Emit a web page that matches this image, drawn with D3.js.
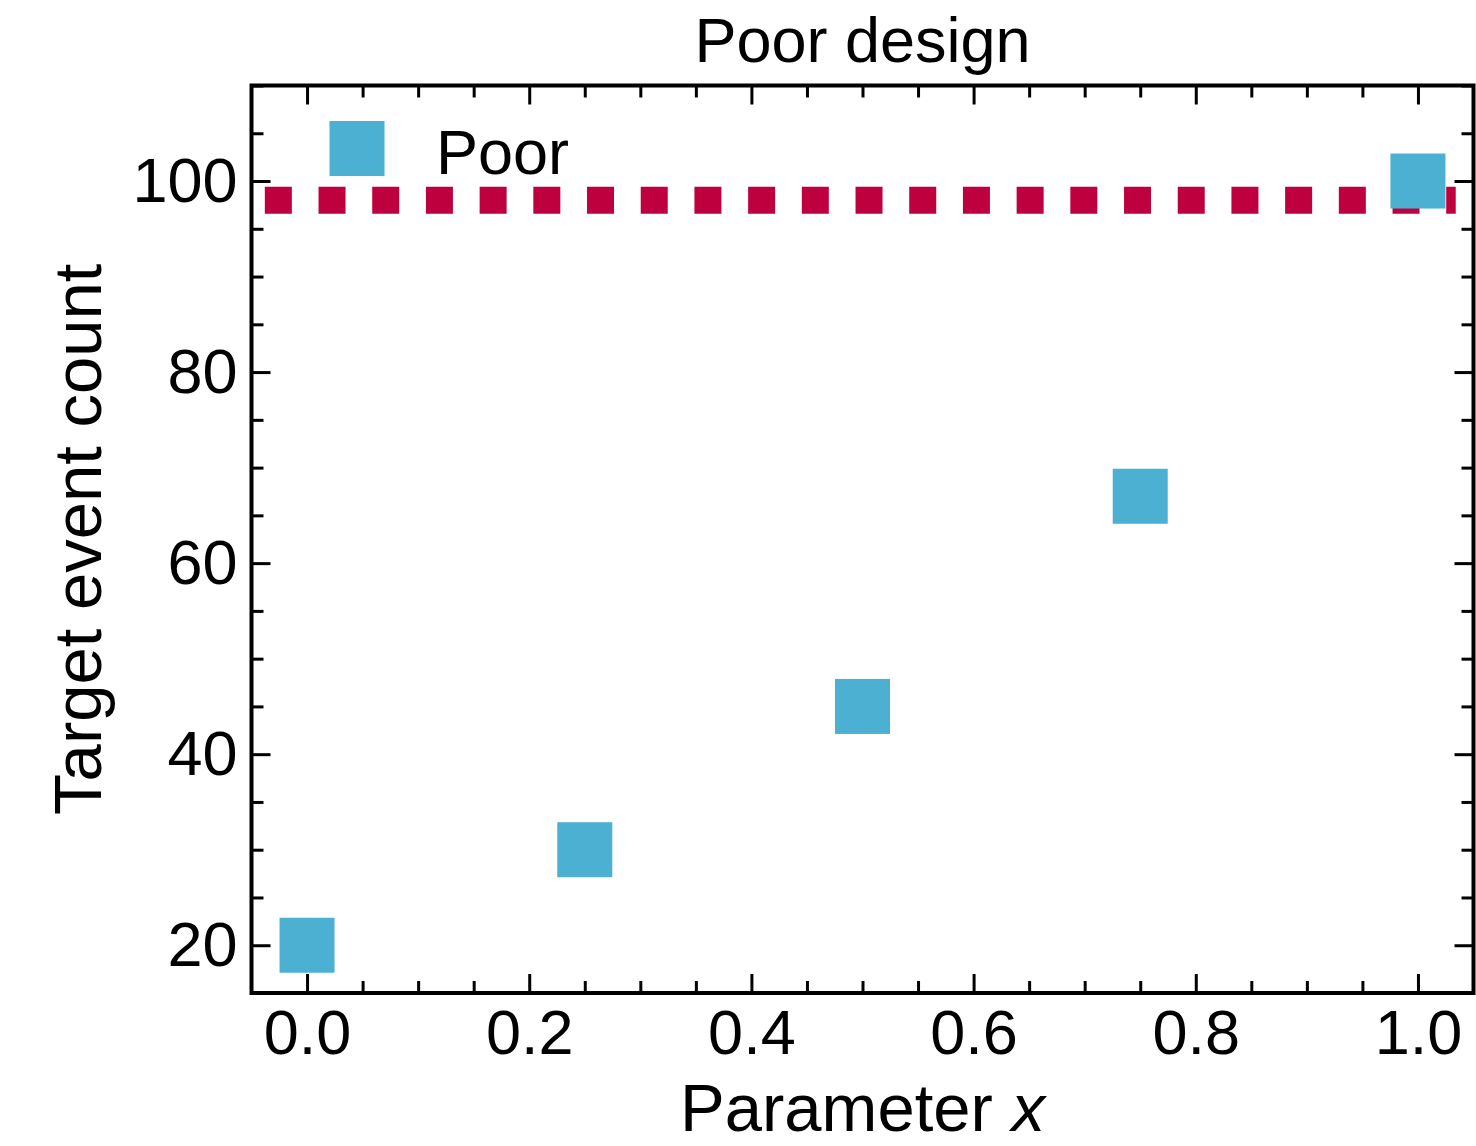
<!DOCTYPE html>
<html>
<head>
<meta charset="utf-8">
<script src="https://cdn.jsdelivr.net/npm/d3@7"></script>
<style>
  body { margin: 0; background: #fff; }
  svg text { font-family: "Liberation Sans", Arial, sans-serif; fill: #000; }
</style>
</head>
<body>
<svg id="chart" width="1476" height="1146"></svg>
<script>
// data
var xValues = [0.0, 0.25, 0.5, 0.75, 1.0];
var yValues = [20, 30, 45, 67, 100];
var targetLevel = 98;
var targetSpan = [-0.038, 1.034];
var xTicks = [0.0, 0.2, 0.4, 0.6, 0.8, 1.0];
var yTicks = [20, 40, 60, 80, 100];
var xDomain = [-0.05, 1.05];
var yDomain = [15, 110];

var width = 1476, height = 1146;
var margin = {left: 251.5, right: 2.5, top: 85.5, bottom: 153};
var fontSize = 63;     // ticks, title, legend
var labelSize = 67;    // axis labels

var svg = d3.select('#chart');

var xScale = d3.scaleLinear().domain(xDomain).range([margin.left, width - margin.right]);
var yScale = d3.scaleLinear().domain(yDomain).range([height - margin.bottom, margin.top]);

// minor ticks every 0.05 and every 5
var xMinor = d3.range(0, 1.0001, 0.05).filter(function(v) { return Math.abs(v * 5 - Math.round(v * 5)) > 1e-6; });
var yMinor = d3.range(15, 110.001, 5).filter(function(v) { return v % 20 !== 0; });

function styleAxis(g) {
  g.select('.domain').remove();
  g.selectAll('.tick line').attr('stroke', '#000').attr('stroke-width', 3);
  g.selectAll('.tick text').style('font-size', fontSize + 'px');
}

// major ticks on all four sides, pointing inward
var axBottom = svg.append('g')
  .attr('transform', 'translate(0,' + (height - margin.bottom) + ')')
  .call(d3.axisBottom(xScale).tickValues(xTicks).tickSize(-19).tickPadding(16).tickFormat(d3.format('.1f')));
styleAxis(axBottom);

var axLeft = svg.append('g')
  .attr('transform', 'translate(' + margin.left + ',0)')
  .call(d3.axisLeft(yScale).tickValues(yTicks).tickSize(-19).tickPadding(14));
styleAxis(axLeft);

var axTop = svg.append('g')
  .attr('transform', 'translate(0,' + margin.top + ')')
  .call(d3.axisTop(xScale).tickValues(xTicks).tickSize(-19).tickFormat(''));
styleAxis(axTop);

var axRight = svg.append('g')
  .attr('transform', 'translate(' + (width - margin.right) + ',0)')
  .call(d3.axisRight(yScale).tickValues(yTicks).tickSize(-19).tickFormat(''));
styleAxis(axRight);

// minor ticks
[[d3.axisBottom(xScale).tickValues(xMinor), 'translate(0,' + (height - margin.bottom) + ')'],
 [d3.axisTop(xScale).tickValues(xMinor), 'translate(0,' + margin.top + ')'],
 [d3.axisLeft(yScale).tickValues(yMinor), 'translate(' + margin.left + ',0)'],
 [d3.axisRight(yScale).tickValues(yMinor), 'translate(' + (width - margin.right) + ',0)']
].forEach(function(a) {
  var g = svg.append('g').attr('transform', a[1]).call(a[0].tickSize(-12).tickFormat(''));
  styleAxis(g);
});

// target line (dotted, square dots)
svg.append('line')
  .attr('x1', xScale(targetSpan[0])).attr('x2', xScale(targetSpan[1]))
  .attr('y1', yScale(targetLevel)).attr('y2', yScale(targetLevel))
  .attr('stroke', '#BF003F').attr('stroke-width', 27)
  .attr('stroke-dasharray', '27 26.7');

// square markers
var ms = 55;
svg.selectAll('rect.pt').data(xValues).enter().append('rect')
  .attr('class', 'pt')
  .attr('x', function(d) { return xScale(d) - ms / 2; })
  .attr('y', function(d, i) { return yScale(yValues[i]) - ms / 2; })
  .attr('width', ms).attr('height', ms)
  .attr('fill', '#4BB0D1');

// frame
svg.append('rect')
  .attr('x', margin.left).attr('y', margin.top)
  .attr('width', width - margin.left - margin.right)
  .attr('height', height - margin.top - margin.bottom)
  .attr('fill', 'none').attr('stroke', '#000').attr('stroke-width', 4);

// legend
svg.append('rect')
  .attr('x', 329.5).attr('y', 121).attr('width', ms).attr('height', ms)
  .attr('fill', '#4BB0D1');
svg.append('text')
  .attr('x', 436).attr('y', 174)
  .style('font-size', fontSize + 'px')
  .text('Poor');

// title and axis labels
var cx = (margin.left + width - margin.right) / 2;
svg.append('text')
  .attr('x', cx).attr('y', 62)
  .attr('text-anchor', 'middle')
  .style('font-size', fontSize + 'px')
  .text('Poor design');

var xl = svg.append('text')
  .attr('x', cx).attr('y', 1131)
  .attr('text-anchor', 'middle')
  .style('font-size', labelSize + 'px');
xl.append('tspan').text('Parameter ');
xl.append('tspan').style('font-style', 'italic').text('x');

var cy = (margin.top + height - margin.bottom) / 2;
svg.append('text')
  .attr('transform', 'translate(101,' + cy + ') rotate(-90)')
  .attr('text-anchor', 'middle')
  .style('font-size', labelSize + 'px')
  .text('Target event count');
</script>
</body>
</html>
